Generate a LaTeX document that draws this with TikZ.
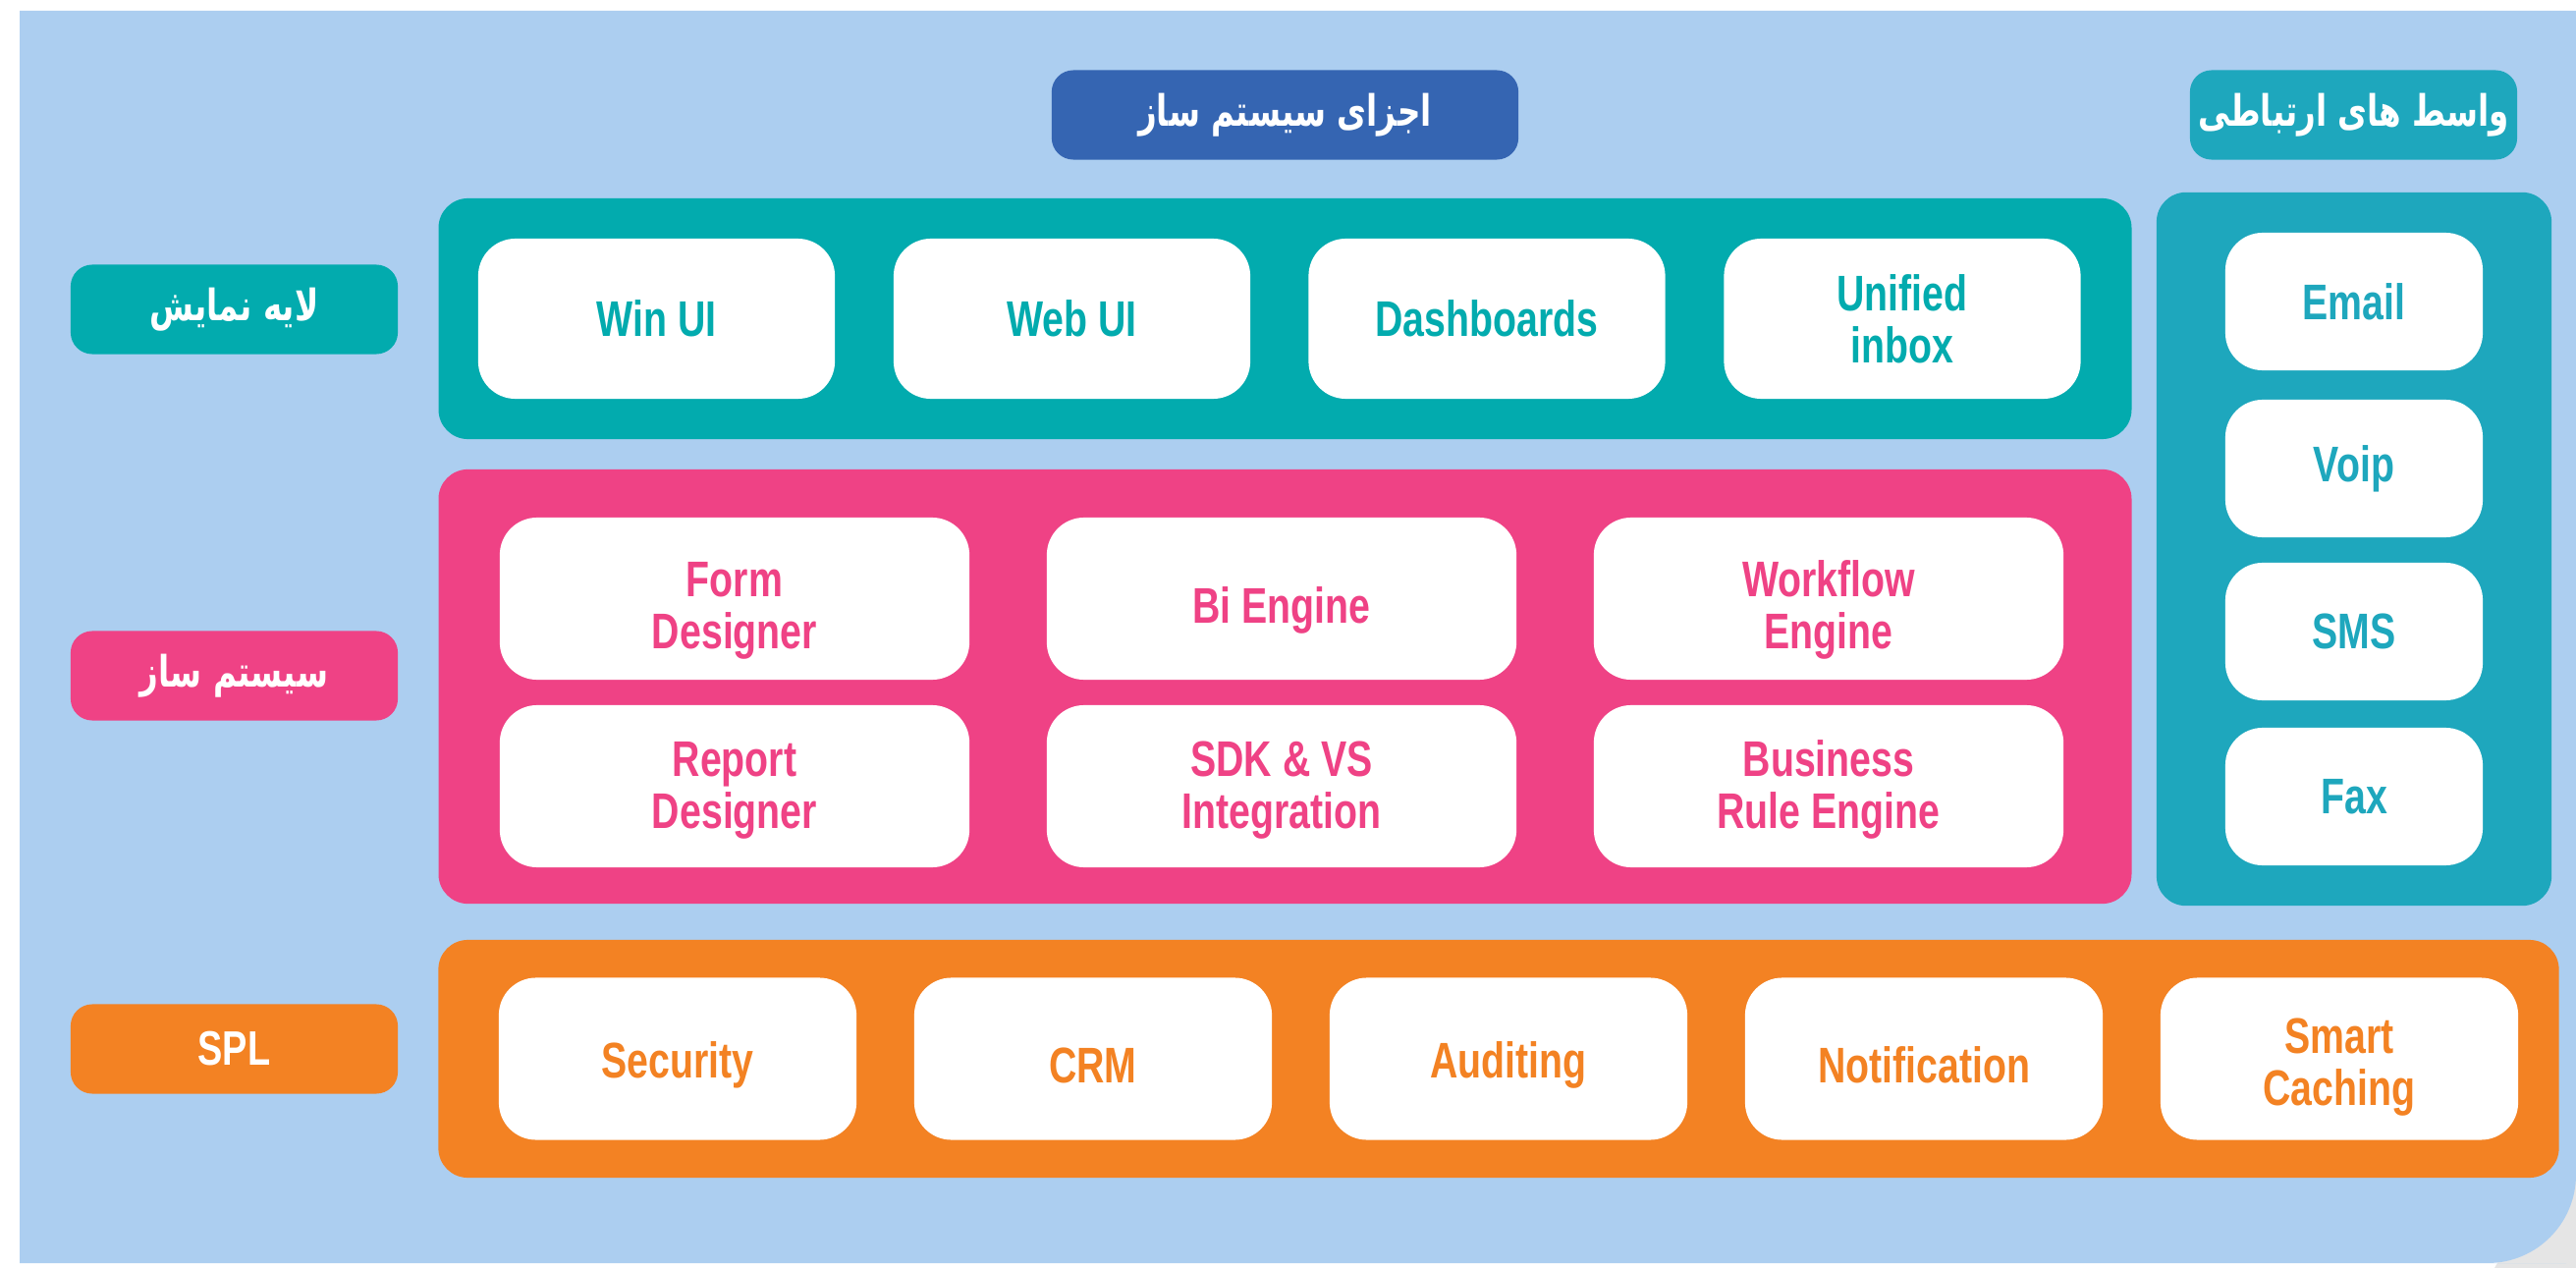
\documentclass[tikz,border=0pt]{standalone}
\usepackage{fontspec}
\newfontfamily\narrowfont[FakeStretch=0.77]{Liberation Sans}
\newfontfamily\farsifont[Script=Arabic,FakeStretch=0.74]{DejaVu Sans}
\TeXXeTstate=1
\definecolor{skyback}{RGB}{172,206,240}
\definecolor{viewteal}{RGB}{2,171,174}
\definecolor{syspink}{RGB}{239,66,133}
\definecolor{splorange}{RGB}{243,130,35}
\definecolor{commteal}{RGB}{30,167,189}
\definecolor{headblue}{RGB}{53,101,178}
\newcommand{\fa}[1]{{\farsifont\bfseries\fontsize{12.5}{14}\selectfont\beginR #1\endR}}

\begin{document}
\begin{tikzpicture}[x=0.01cm,y=-0.01cm,
  panel/.style={rounded corners=0.3cm,inner sep=0pt},
  tile/.style={fill=white,rounded corners=0.38cm,align=center,inner sep=0pt,
    font=\narrowfont\bfseries\fontsize{14.5}{15}\selectfont},
  viewtile/.style={tile,text=viewteal,minimum width=3.63cm,minimum height=1.63cm},
  systile/.style={tile,text=syspink,minimum width=4.78cm,minimum height=1.65cm},
  spltile/.style={tile,text=splorange,minimum width=3.64cm,minimum height=1.65cm,text height=0.5cm},
  commtile/.style={tile,text=commteal,minimum width=2.62cm,minimum height=1.40cm},
  tag/.style={rounded corners=0.22cm,minimum width=3.33cm,minimum height=0.91cm,
    inner sep=0pt,text=white,font=\narrowfont\bfseries\fontsize{14}{16}\selectfont}]
\useasboundingbox (0,0) rectangle (2623,1291);
\fill[black!10] (2623,1150) -- (2623,1291) -- (2540,1291) -- cycle;
\fill[skyback] (20,11) -- (2623,11) -- (2623,1186) [rounded corners=0.9cm] -- (2623,1286)
  -- (2523,1286) [sharp corners] -- (20,1286) -- cycle;

\node[tag,fill=headblue,minimum width=4.75cm] (hsys) at (1308.5,117) {\fa{اجزای سیستم ساز}};
\node[tag,fill=commteal] (hcomm) at (2396.5,117) {\fa{واسط های ارتباطی}};
\node[tag,fill=viewteal] (tview) at (238.5,315) {\fa{لایه نمایش}};
\node[tag,fill=syspink] (tsys) at (238.5,688) {\fa{سیستم ساز}};
\node[tag,fill=splorange] (tspl) at (238.5,1068) {SPL};

\node[panel,fill=viewteal,minimum width=17.23cm,minimum height=2.45cm] (pview) at (1308.5,324.5) {};
\node[panel,fill=syspink,minimum width=17.23cm,minimum height=4.42cm] (psys) at (1308.5,699) {};
\node[panel,fill=splorange,minimum width=21.58cm,minimum height=2.42cm] (pspl) at (1526,1078) {};
\node[panel,fill=commteal,minimum width=4.02cm,minimum height=7.26cm] (pcomm) at (2397,559) {};

\node[viewtile] (winui) at (668.5,324.5) {Win UI};
\node[viewtile] (webui) at (1091.5,324.5) {Web UI};
\node[viewtile] (dash) at (1514,324.5) {Dashboards};
\node[viewtile] (inbox) at (1937,324.5) {Unified\\inbox};

\node[systile,text height=1.13cm] (form) at (748,609.5) {Form\\Designer};
\node[systile,text height=0.6cm] (bi) at (1305,609.5) {Bi Engine};
\node[systile,text height=1.13cm] (flow) at (1862,609.5) {Workflow\\Engine};
\node[systile,text height=0.96cm] (report) at (748,800.5) {Report\\Designer};
\node[systile,text height=0.96cm] (sdk) at (1305,800.5) {SDK \& VS\\Integration};
\node[systile,text height=0.96cm] (rule) at (1862,800.5) {Business\\Rule Engine};

\node[spltile] (secur) at (690,1078) {Security};
\node[spltile] (crm) at (1113,1078) {CRM};
\node[spltile] (audit) at (1536,1078) {Auditing};
\node[spltile] (notif) at (1959,1078) {Notification};
\node[spltile,text height=1.05cm] (cache) at (2382,1078) {Smart\\Caching};

\node[commtile] (email) at (2397,307) {Email};
\node[commtile] (voip) at (2397,477) {Voip};
\node[commtile] (sms) at (2397,643) {SMS};
\node[commtile] (fax) at (2397,811) {Fax};
\end{tikzpicture}
\end{document}
